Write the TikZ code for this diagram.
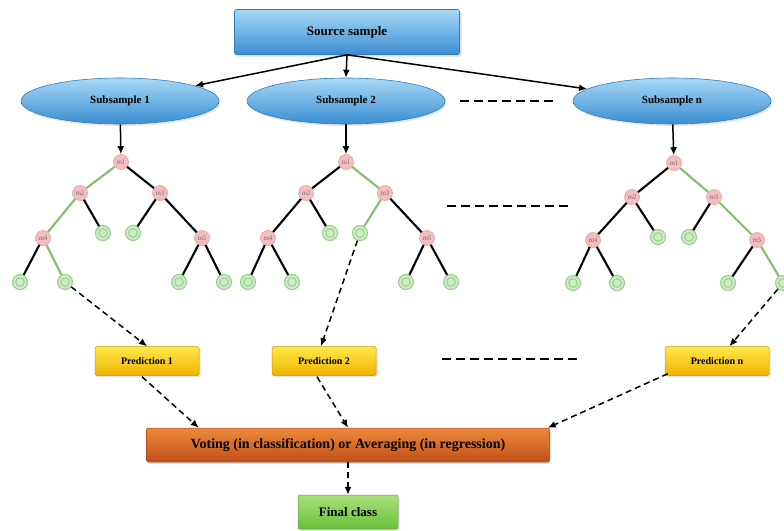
\documentclass[tikz,border=0pt]{standalone}
\usepackage{fontspec}
\setmainfont{Liberation Serif}
\usetikzlibrary{arrows.meta,shapes.geometric,shadows,calc}
\definecolor{bluetop}{HTML}{A8D8F6}
\definecolor{bluebot}{HTML}{3A8ED2}
\definecolor{blueedge}{HTML}{2F7EC0}
\definecolor{yeltop}{HTML}{FFE84A}
\definecolor{yelbot}{HTML}{F0B400}
\definecolor{orgtop}{HTML}{EE8A3A}
\definecolor{orgbot}{HTML}{C0501A}
\definecolor{grntop}{HTML}{A8E07A}
\definecolor{grnbot}{HTML}{6CBF3A}
\definecolor{pinkfill}{HTML}{F5BDBD}
\definecolor{pinkedge}{HTML}{E3A3A3}
\definecolor{leaffill}{HTML}{CDEBC4}
\definecolor{leafedge}{HTML}{96CE8C}
\definecolor{pathgreen}{HTML}{86BE6C}
\tikzset{
  srcbox/.style={rectangle, minimum width=225pt, minimum height=45pt, top color=bluetop, bottom color=bluebot, draw=blueedge, line width=0.6pt, rounded corners=2pt, font=\bfseries\fontsize{13}{15}\selectfont, drop shadow={opacity=0.25, shadow xshift=2pt, shadow yshift=-2pt}},
  subell/.style={ellipse, minimum width=198pt, minimum height=46pt, inner sep=0pt, top color=bluetop, bottom color=bluebot, draw=blueedge, line width=0.6pt, font=\bfseries\fontsize{11}{13}\selectfont, drop shadow={opacity=0.2, shadow xshift=1.5pt, shadow yshift=-2pt}},
  predbox/.style={rectangle, minimum width=104pt, minimum height=29pt, top color=yeltop, bottom color=yelbot, draw=yelbot!85!black, line width=0.5pt, rounded corners=1.5pt, font=\bfseries\fontsize{10}{12}\selectfont, drop shadow={opacity=0.2, shadow xshift=1.5pt, shadow yshift=-1.5pt}},
  votebox/.style={rectangle, minimum width=403pt, minimum height=34pt, top color=orgtop, bottom color=orgbot, draw=orgbot!85!black, line width=0.5pt, rounded corners=2pt, font=\bfseries\fontsize{14}{16}\selectfont, drop shadow={opacity=0.2, shadow xshift=1.5pt, shadow yshift=-2pt}},
  finalbox/.style={rectangle, minimum width=100pt, minimum height=34pt, top color=grntop, bottom color=grnbot, draw=grnbot!85!black, line width=0.5pt, rounded corners=2pt, font=\bfseries\fontsize{13}{15}\selectfont, drop shadow={opacity=0.2, shadow xshift=1.5pt, shadow yshift=-2pt}},
  inner/.style={circle, minimum size=15pt, inner sep=0pt, fill=pinkfill, draw=pinkedge, line width=0.6pt, text=black!55, font=\fontsize{7}{7}\selectfont},
  leaf/.style={circle, minimum size=15pt, inner sep=0pt, fill=leaffill, draw=leafedge, line width=1pt, path picture={\draw[leafedge, line width=0.9pt] (path picture bounding box.center) circle (4.3pt);}},
  blk/.style={draw=black, line width=2.1pt},
  grn/.style={draw=pathgreen, line width=2.1pt},
  arr/.style={draw=black, line width=1.5pt, -{Latex[length=8pt,width=7pt]}},
  darr/.style={draw=black, line width=1.5pt, dash pattern=on 6pt off 4pt, -{Latex[length=8pt,width=7pt]}},
  dline/.style={draw=black, line width=1.5pt, dash pattern=on 9pt off 5pt}
}
\begin{document}
\begin{tikzpicture}[x=1pt,y=-1pt]
\useasboundingbox (0,0) rectangle (784,530);
\fill[white] (0,0) rectangle (784,530);

% top
\node[srcbox] (src) at (347,32) {Source sample};
\node[subell] (s1) at (120,101) {Subsample 1};
\node[subell] (s2) at (346,101) {Subsample 2};
\node[subell] (s3) at (672,101) {Subsample n};
\coordinate (d1a) at (460,101); \coordinate (d1b) at (553,101);
\draw[dline] (d1a) -- (d1b);

\draw[arr] (src.south) -- (s1);
\draw[arr] (src.south) -- (s2.north);
\draw[arr] (src.south) -- (s3);

% tree 1
\node[inner] (a1) at (121,162) {m1};
\node[inner] (a2) at (80,193) {m2};
\node[inner] (a3) at (160,193) {m3};
\node[leaf] (al1) at (103,233) {};
\node[leaf] (al2) at (133,233) {};
\node[inner] (a4) at (43,238) {m4};
\node[inner] (a5) at (202,238) {m5};
\node[leaf] (al3) at (20,282) {};
\node[leaf] (al4) at (65,282) {};
\node[leaf] (al5) at (179,282) {};
\node[leaf] (al6) at (224,282) {};
\draw[grn] (a1) -- (a2);
\draw[blk] (a1) -- (a3);
\draw[grn] (a2) -- (a4);
\draw[blk] (a2) -- (al1);
\draw[blk] (a3) -- (al2);
\draw[blk] (a3) -- (a5);
\draw[blk] (a4) -- (al3);
\draw[grn] (a4) -- (al4);
\draw[blk] (a5) -- (al5);
\draw[blk] (a5) -- (al6);

% tree 2
\node[inner] (b1) at (346,162) {m1};
\node[inner] (b2) at (306,193) {m2};
\node[inner] (b3) at (385,193) {m3};
\node[leaf] (bl1) at (330,233) {};
\node[leaf] (bl2) at (360,233) {};
\node[inner] (b4) at (268,238) {m4};
\node[inner] (b5) at (427,238) {m5};
\node[leaf] (bl3) at (248,282) {};
\node[leaf] (bl4) at (292,282) {};
\node[leaf] (bl5) at (406,282) {};
\node[leaf] (bl6) at (451,282) {};
\draw[blk] (b1) -- (b2);
\draw[grn] (b1) -- (b3);
\draw[blk] (b2) -- (b4);
\draw[blk] (b2) -- (bl1);
\draw[grn] (b3) -- (bl2);
\draw[blk] (b3) -- (b5);
\draw[blk] (b4) -- (bl3);
\draw[blk] (b4) -- (bl4);
\draw[blk] (b5) -- (bl5);
\draw[blk] (b5) -- (bl6);

% tree 3
\node[inner] (c1) at (674,163) {m1};
\node[inner] (c2) at (632,197) {m2};
\node[inner] (c3) at (714,197) {m3};
\node[leaf] (cl1) at (658,237) {};
\node[leaf] (cl2) at (689,237) {};
\node[inner] (c4) at (593,240) {m4};
\node[inner] (c5) at (757,240) {m5};
\node[leaf] (cl3) at (573,283) {};
\node[leaf] (cl4) at (617,283) {};
\node[leaf] (cl5) at (728,283) {};
\node[leaf] (cl6) at (783,283) {};
\draw[blk] (c1) -- (c2);
\draw[grn] (c1) -- (c3);
\draw[blk] (c2) -- (c4);
\draw[blk] (c2) -- (cl1);
\draw[blk] (c3) -- (cl2);
\draw[grn] (c3) -- (c5);
\draw[blk] (c4) -- (cl3);
\draw[blk] (c4) -- (cl4);
\draw[blk] (c5) -- (cl5);
\draw[grn] (c5) -- (cl6);

\draw[arr] (s1) -- (a1);
\draw[arr] (s2) -- (b1);
\draw[arr] (s3) -- (c1);

\coordinate (d2a) at (447,206); \coordinate (d2b) at (570,206);
\draw[dline] (d2a) -- (d2b);

% predictions
\node[predbox] (p1) at (147,361) {Prediction 1};
\node[predbox] (p2) at (324,361) {Prediction 2};
\node[predbox] (p3) at (717,361) {Prediction n};
\coordinate (d3a) at (442,359); \coordinate (d3b) at (578,359);
\draw[dline] (d3a) -- (d3b);

\draw[darr] (al4) -- (p1.north);
\draw[darr] (bl2) -- ($(p2.north)+(-3,0)$);
\draw[darr] (cl6) -- (p3);

% vote
\node[votebox] (vote) at (348,445) {Voting (in classification) or Averaging (in regression)};
\node[finalbox] (fin) at (348,512) {Final class};

\draw[darr] ($(p1.south)+(-5,1)$) -- ($(vote.north west)!0.13!(vote.north east)$);
\draw[darr] ($(p2.south)+(-7,1)$) -- (vote.north);
\draw[darr] ($(p3.south west)+(3,-2)$) -- ($(vote.north east)+(-2,0)$);
\draw[darr] (vote.south) -- (fin.north);
\end{tikzpicture}
\end{document}
